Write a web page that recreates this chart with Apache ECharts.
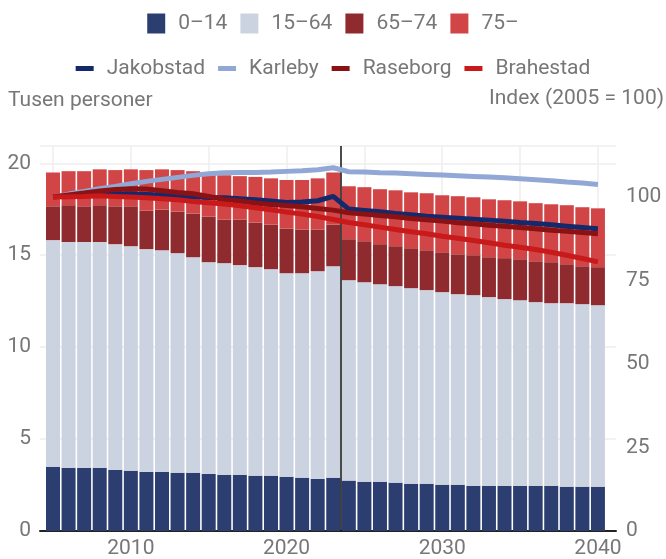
<!DOCTYPE html>
<html>
<head>
<meta charset="utf-8">
<script src="https://cdn.jsdelivr.net/npm/echarts@6.0.0/dist/echarts.min.js"></script>
<style>
html,body{margin:0;padding:0;background:#fff;}
#chart{width:666px;height:559px;}
</style>
</head>
<body>
<div id="chart"></div>
<script>
const years = [2005,2006,2007,2008,2009,2010,2011,2012,2013,2014,2015,2016,2017,2018,2019,2020,2021,2022,2023,2024,2025,2026,2027,2028,2029,2030,2031,2032,2033,2034,2035,2036,2037,2038,2039,2040];
const xTickLabels = [2010, 2020, 2030, 2040];

const age0_14 = [3.49,3.44,3.44,3.44,3.33,3.28,3.22,3.22,3.17,3.17,3.11,3.06,3.06,3.01,3.01,2.95,2.90,2.84,2.90,
  2.74,2.68,2.68,2.63,2.57,2.57,2.52,2.52,2.46,2.46,2.46,2.46,2.46,2.46,2.41,2.41,2.41];
const age15_64 = [12.33,12.28,12.28,12.28,12.27,12.21,12.11,12.05,11.94,11.72,11.51,11.51,11.40,11.34,11.23,11.07,11.12,11.29,11.50,
  10.90,10.85,10.74,10.69,10.64,10.53,10.47,10.36,10.37,10.26,10.15,10.09,9.99,9.93,9.98,9.93,9.87];
const age65_74 = [1.84,2.00,1.94,2.00,2.06,2.17,2.09,2.21,2.26,2.37,2.48,2.36,2.47,2.42,2.42,2.43,2.38,2.27,2.27,
  2.23,2.23,2.18,2.17,2.17,2.17,2.17,2.17,2.17,2.17,2.23,2.23,2.22,2.23,2.12,2.06,2.07];
const age75 = [1.84,1.85,1.91,1.95,1.97,2.01,2.21,2.19,2.26,2.31,2.30,2.42,2.37,2.49,2.52,2.64,2.69,2.78,2.83,
  2.88,2.94,2.99,3.04,3.04,3.10,3.10,3.16,3.15,3.15,3.15,3.15,3.16,3.15,3.21,3.21,3.20];

const jakobstad = [100,100.6,100.9,101,101,101,100.8,100.6,100.3,100.1,99.9,99.8,99.5,99.2,98.8,98.4,98.5,98.9,100.2,
  96.4,96.0,95.6,95.1,94.7,94.3,94.0,93.7,93.4,93.1,92.8,92.4,92.1,91.7,91.3,90.9,90.5];
const karleby = [100,100.9,101.7,102.5,103.2,104,104.7,105.3,105.9,106.5,107,107.3,107.4,107.4,107.5,107.7,107.9,108.2,108.8,
  107.6,107.5,107.3,107.2,107.0,106.8,106.6,106.4,106.2,106.0,105.8,105.5,105.2,104.9,104.5,104.2,103.8];
const raseborg = [100,100.6,101.2,101.8,102.3,102.5,102.4,101.9,101.4,101.0,100.2,99.3,98.8,98.2,97.8,97.5,97.1,96.6,96.1,
  95.3,94.9,94.5,94.1,93.6,93.2,92.8,92.3,92.0,91.6,91.3,90.9,90.5,90.1,89.8,89.4,89.0];
const brahestad = [100,100.1,100.2,100.4,100.2,100,99.8,99.5,99.2,98.7,98.3,97.9,97.4,96.8,96.2,95.5,94.9,94.2,93.3,
  92.4,91.7,91.0,90.3,89.6,89.0,88.3,87.7,87.0,86.3,85.6,85.0,84.3,83.5,82.6,81.6,80.6];

const barNames = ['0–14','15–64','65–74','75–'];
const barColors = ['#2c3d70','#cbd2e0','#8f2b2f','#d14546'];
const lineNames = ['Jakobstad','Karleby','Raseborg','Brahestad'];
const lineColors = ['#13296b','#91a8d6','#8a1214','#c8191b'];
const forecastStart = 2023.5;

const barData = [age0_14, age15_64, age65_74, age75];
const lineData = [jakobstad, karleby, raseborg, brahestad];
const pairs = arr => years.map((y, i) => [y, arr[i]]);

const FONT = 'Roboto';
const TXT = '#777777';
const FS = 21;

// layout of the shared plot area
const X_MIN = 2004.165, X_MAX = 2041.16;
const G_LEFT = 40, G_RIGHT = 50, G_TOP = 146, G_BOTTOM = 28;
const W = 666;
const pxPerYear = (W - G_LEFT - G_RIGHT) / (X_MAX - X_MIN);
const barLeft = G_LEFT + (years[0] - 0.5 - X_MIN) * pxPerYear;
const barRight = W - (barLeft + years.length * pxPerYear);
const Y_LEFT_MAX = 20.94, Y_RIGHT_MAX = 115.3;

const series = [];
barNames.forEach((n, i) => {
  series.push({
    name: n, type: 'bar', stack: 'pop', barWidth: 14,
    xAxisIndex: 1, yAxisIndex: 2,
    itemStyle: { color: barColors[i] },
    data: barData[i],
    z: 2
  });
});
lineNames.forEach((n, i) => {
  const s = {
    name: n, type: 'line', xAxisIndex: 0, yAxisIndex: 1,
    showSymbol: false, symbol: 'none',
    lineStyle: { color: lineColors[i], width: 5 },
    itemStyle: { color: lineColors[i] },
    data: pairs(lineData[i]),
    z: 5
  };
  if (i === 0) {
    s.markLine = {
      silent: true, symbol: ['none', 'none'],
      label: { show: false },
      lineStyle: { color: '#111111', width: 1.5, type: 'solid' },
      data: [{ xAxis: forecastStart }],
      z: 4
    };
  }
  series.push(s);
});

const chart = echarts.init(document.getElementById('chart'), null, { renderer: 'canvas' });
chart.setOption({
  animation: false,
  textStyle: { fontFamily: FONT },
  title: [
    { text: 'Tusen personer', left: 8, top: 90, padding: 0,
      textStyle: { fontFamily: FONT, fontSize: FS, fontWeight: 'normal', color: TXT } },
    { text: 'Index (2005 = 100)', right: 2, top: 88, padding: 0,
      textStyle: { fontFamily: FONT, fontSize: FS, fontWeight: 'normal', color: TXT } }
  ],
  legend: [
    { data: barNames.map(n => ({ name: n, icon: 'rect' })), top: 8, left: 'center',
      itemWidth: 18, itemHeight: 20, itemGap: 13,
      textStyle: { fontFamily: FONT, fontSize: FS, color: TXT, padding: [0, 0, 0, 8] } },
    { data: lineNames.map(n => ({ name: n, icon: 'rect' })), top: 53, left: 'center',
      itemWidth: 18, itemHeight: 5, itemGap: 13,
      textStyle: { fontFamily: FONT, fontSize: FS, color: TXT, padding: [0, 0, 0, 8] } }
  ],
  grid: [
    { left: G_LEFT, right: G_RIGHT, top: G_TOP, bottom: G_BOTTOM, containLabel: false },
    { left: barLeft, right: barRight, top: G_TOP, bottom: G_BOTTOM, containLabel: false }
  ],
  xAxis: [
    { type: 'value', gridIndex: 0, min: X_MIN, max: X_MAX, minInterval: 5, maxInterval: 5,
      axisLine: { show: true, lineStyle: { color: '#222222', width: 2 } },
      axisTick: { show: false },
      axisLabel: {
        fontFamily: FONT, fontSize: FS, color: TXT, margin: 7,
        showMinLabel: false, showMaxLabel: false,
        formatter: v => (xTickLabels.indexOf(Math.round(v * 1000) / 1000) >= 0 ? String(v) : '')
      },
      splitLine: { show: true, showMinLine: false, showMaxLine: false, lineStyle: { color: '#eeeeee', width: 1.5 } }
    },
    { type: 'category', gridIndex: 1, data: years, boundaryGap: true,
      axisLine: { show: false }, axisTick: { show: false }, axisLabel: { show: false },
      splitLine: { show: false } }
  ],
  yAxis: [
    { type: 'value', gridIndex: 0, min: 0, max: Y_LEFT_MAX, interval: 5,
      axisLine: { show: false }, axisTick: { show: false },
      axisLabel: { fontFamily: FONT, fontSize: FS, color: TXT, margin: 9, showMaxLabel: false,
        formatter: v => (v % 5 === 0 ? String(v) : '') },
      splitLine: { show: true, lineStyle: { color: '#eeeeee', width: 1.5 } } },
    { type: 'value', gridIndex: 0, min: 0, max: Y_RIGHT_MAX, interval: 25, position: 'right',
      axisLine: { show: false }, axisTick: { show: false },
      axisLabel: { fontFamily: FONT, fontSize: FS, color: TXT, margin: 10, showMaxLabel: false,
        formatter: v => (v % 25 === 0 ? String(v) : '') },
      splitLine: { show: false } },
    { type: 'value', gridIndex: 1, min: 0, max: Y_LEFT_MAX,
      axisLine: { show: false }, axisTick: { show: false }, axisLabel: { show: false },
      splitLine: { show: false } }
  ],
  series: series
});
</script>
</body>
</html>
